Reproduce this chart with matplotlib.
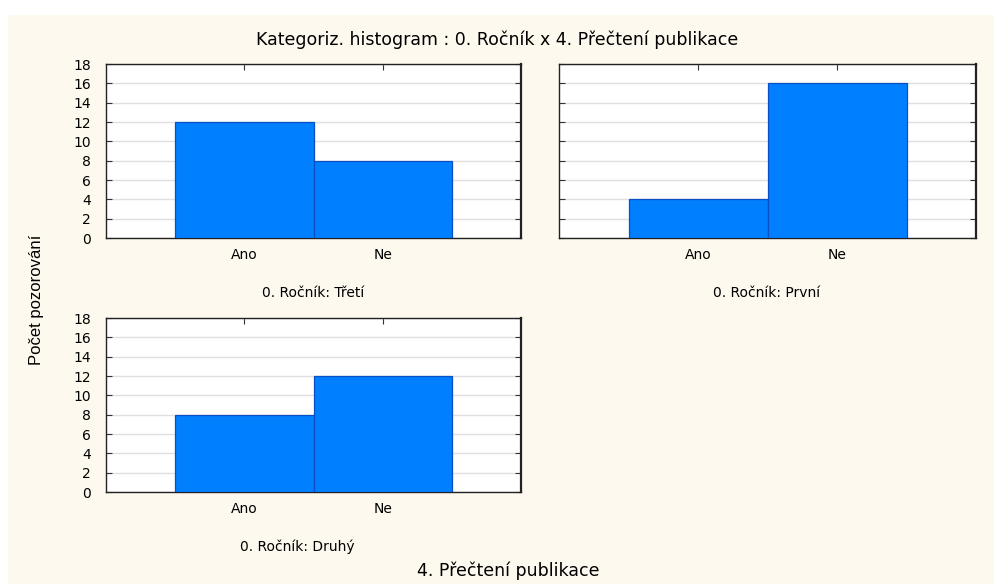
import matplotlib
matplotlib.use("Agg")
import matplotlib.pyplot as plt
from matplotlib.patches import Rectangle

categories = ["Ano", "Ne"]
panel_titles = ["0. Ročník: Třetí", "0. Ročník: První", "0. Ročník: Druhý"]
counts_treti = [12, 8]
counts_prvni = [4, 16]
counts_druhy = [8, 12]
yticks = [0, 2, 4, 6, 8, 10, 12, 14, 16, 18]

title = "Kategoriz. histogram : 0. Ročník x 4. Přečtení publikace"
xlabel = "4. Přečtení publikace"
ylabel = "Počet pozorování"

plt.rcParams['font.family'] = ['DejaVu Sans']

W, H = 994, 584
fig = plt.figure(figsize=(W / 100, H / 100), dpi=100)
fig.patch.set_facecolor("white")
fig.patches.append(Rectangle((8 / W, 0), (994 - 8) / W, (584 - 15) / H,
                             transform=fig.transFigure, facecolor="#fef9ee",
                             edgecolor="none", zorder=-10))

def ax_rect(x0, y0, x1, y1):
    return [x0 / W, 1 - y1 / H, (x1 - x0) / W, (y1 - y0) / H]

panels = [
    (ax_rect(106, 64, 521, 238), counts_treti, panel_titles[0], True, (313, 293)),
    (ax_rect(559, 64, 976, 238), counts_prvni, panel_titles[1], False, (767, 293)),
    (ax_rect(106, 318, 521, 492), counts_druhy, panel_titles[2], True, (297, 547)),
]

for rect, counts, ptitle, show_y, (tx, ty) in panels:
    ax = fig.add_axes(rect)
    ax.set_facecolor("white")
    x = list(range(len(categories)))
    ax.bar(x, counts, width=1.0, color="#007fff", edgecolor="#0a4fc4",
           linewidth=0.9, zorder=3)
    ax.set_xlim(-1.0, 2.0)
    ax.set_ylim(0, 18)
    ax.set_yticks(yticks)
    ax.set_xticks(x)
    ax.set_xticklabels(categories, fontsize=10)
    if show_y:
        ax.set_yticklabels([str(v) for v in yticks], fontsize=10)
    else:
        ax.set_yticklabels([])
    ax.grid(axis="y", color="#e0e0e0", linewidth=1.0, zorder=0)
    ax.tick_params(axis="both", direction="in", length=4, width=0.8,
                   top=True, right=True, color="#333333")
    ax.tick_params(axis="y", pad=11)
    ax.tick_params(axis="x", pad=7)
    for s in ax.spines.values():
        s.set_color("#222222")
        s.set_linewidth(1.0)
    ax.spines["right"].set_linewidth(1.6)
    fig.text(tx / W, 1 - ty / H, ptitle, ha="center", va="center", fontsize=10)

fig.text(497 / W, 1 - 40 / H, title, ha="center", va="center", fontsize=12.5)
fig.text(508 / W, 1 - 571 / H, xlabel, ha="center", va="center", fontsize=12.5)
fig.text(37 / W, 1 - 300 / H, ylabel, ha="center", va="center", rotation=90,
         fontsize=12, family=['Liberation Sans'])

fig.savefig("out.png", dpi=100, facecolor=fig.get_facecolor())
